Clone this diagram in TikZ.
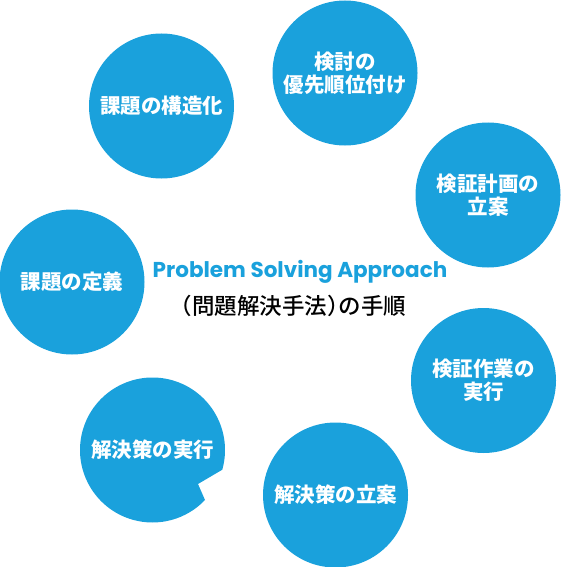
\documentclass[tikz,border=0pt]{standalone}
\usepackage{fontspec}
\newfontfamily\jp{Noto Sans CJK JP}
\newfontfamily\jpm{Noto Sans CJK JP Medium}
\newfontfamily\pop{Poppins}
\usetikzlibrary{calc}
\definecolor{bub}{HTML}{1AA1DC}
\tikzset{
  bubble/.style={circle, fill=bub, minimum size=145pt, inner sep=0pt, text=white,
    font=\jp\bfseries\fontsize{20.5}{23}\selectfont, align=center},
  lbl/.style={text=white, font=\jp\bfseries\fontsize{20.5}{23}\selectfont, align=center},
}
\newcommand{\hp}[1]{{\addfontfeature{RawFeature=+halt}#1}}
\begin{document}
\begin{tikzpicture}[x=1pt,y=-1pt]
\useasboundingbox (0,0) rectangle (560,567);
\node[bubble] (b1) at (161.5,106) {課題の構造化};
\node[bubble] (b2) at (345,73) {検討の\\優先順位付け};
\node[bubble] (b3) at (488,195) {検証計画の\\立案};
\node[bubble] (b4) at (72,282) {課題の定義};
\node[bubble] (b5) at (483.5,380.5) {検証作業の\\実行};
\node[bubble] (b7) at (335.5,495) {解決策の立案};
% notched bubble
\coordinate (c6) at (152.5,450);
\coordinate (n6) at (198,484);
\fill[bub] (n6) -- ($(c6)+(-15.8:72.5pt)$) arc[start angle=-15.8, end angle=316.4, radius=72.5pt] -- cycle;
\node[lbl] (b6) at (c6) {解決策の実行};
% title
\node[text=bub, font=\pop\bfseries\fontsize{21.5}{24}\selectfont] (t1) at (300,272) {Problem Solving Approach};
\node[text=black, font=\jpm\fontsize{22.5}{24}\selectfont] (t2) at (293.5,306) {\hp{（}問題解決手法\hp{）}の手順};
\end{tikzpicture}
\end{document}
